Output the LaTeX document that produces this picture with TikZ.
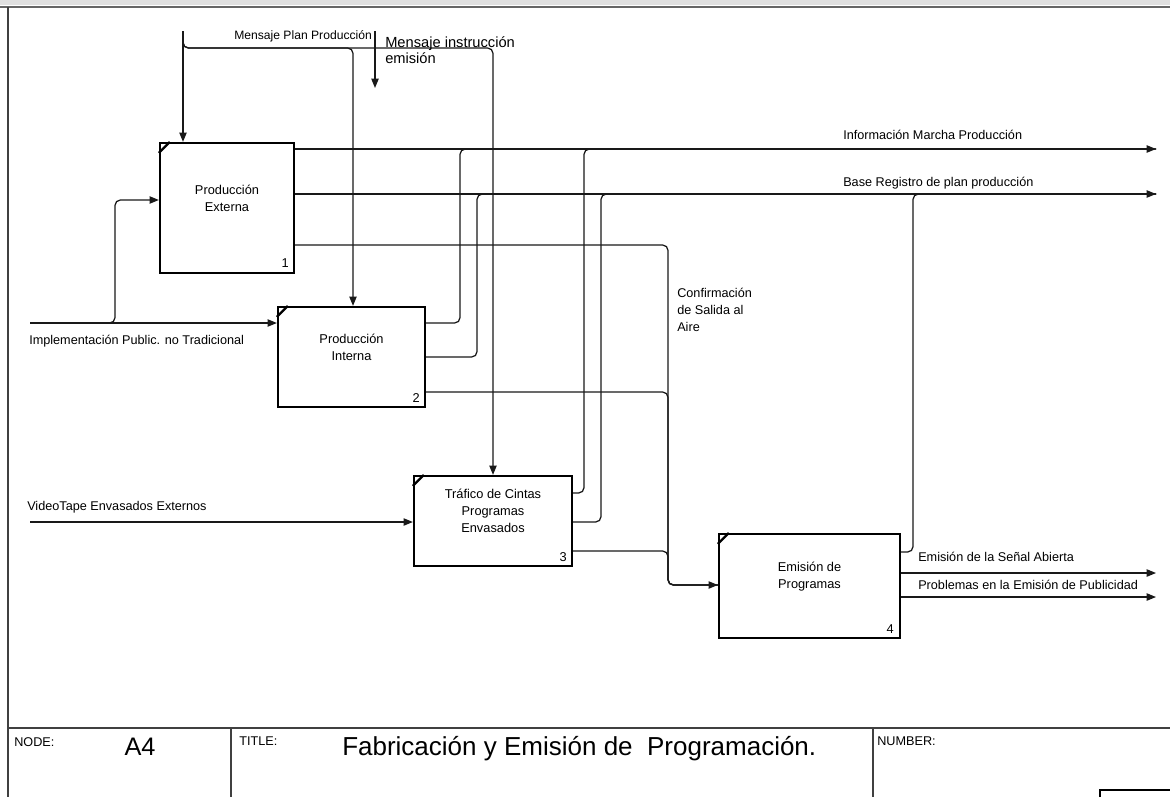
\documentclass[tikz,border=0pt]{standalone}
\usepackage{fontspec}
\setmainfont{Liberation Sans}
\usetikzlibrary{arrows.meta,calc,fit}

\begin{document}
\begin{tikzpicture}[x=0.75pt,y=-0.75pt,
  conn/.style={line width=0.95pt, draw=black!90, rounded corners=4pt},
  arr/.style={conn, -{Triangle[length=7pt,width=5.5pt]}},
  procbox/.style={draw, line width=1.7pt, inner sep=0pt, fill=white},
  corner/.style={line width=1.7pt},
  boxtxt/.style={align=center, inner sep=0pt, font=\fontsize{9.6}{12.75}\selectfont},
  boxnum/.style={inner sep=0pt, font=\fontsize{9.6}{11}\selectfont},
  lbl/.style={inner sep=0pt, font=\fontsize{9.5}{12.75}\selectfont},
  frame/.style={line width=1.2pt, draw=black!75},
  small/.style={inner sep=0pt, font=\fontsize{9.5}{11}\selectfont, anchor=north west}
]
\useasboundingbox (0,0) rectangle (1170,797);

% sheet border
\fill[black!12] (0,0) rectangle (1170,5);
\draw[line width=1.8pt, draw=black!60] (0,7) -- (1170,7);
\draw[frame] (8,7) -- (8,797);

% activity boxes
\node[procbox, fit={(160,143) (294,273)}] (b1) {};
\node[procbox, fit={(278,307) (425,407)}] (b2) {};
\node[procbox, fit={(414,476) (572,566)}] (b3) {};
\node[procbox, fit={(719,534) (900,638)}] (b4) {};

\foreach \b in {b1,b2,b3,b4}
  \draw[corner] ($(\b.north west)+(0,11)$) -- ($(\b.north west)+(11,0)$);

\node[boxtxt] (b1t) at ($(b1.center)+(0,-10)$) {Producción\\Externa};
\node[boxtxt] (b2t) at ($(b2.center)+(0,-10)$) {Producción\\Interna};
\node[boxtxt] (b3t) at ($(b3.center)+(0,-10)$) {Tráfico de Cintas\\Programas\\Envasados};
\node[boxtxt] (b4t) at ($(b4.center)+(0,-9)$) {Emisión de\\Programas};

\node[boxnum] (b1n) at ($(b1.south east)+(-10,-11)$) {1};
\node[boxnum] (b2n) at ($(b2.south east)+(-10,-10)$) {2};
\node[boxnum] (b3n) at ($(b3.south east)+(-10,-10)$) {3};
\node[boxnum] (b4n) at ($(b4.south east)+(-11,-10)$) {4};

% free ends of the boundary arrows
\coordinate (mpp) at (183,31);
\coordinate (mie) at (375,31);
\coordinate (mieE) at (375,88);
\coordinate (ipt) at (30,323);
\coordinate (vtp) at (30,522);
\coordinate (imp) at (1156,149);
\coordinate (brp) at (1156,194);
\coordinate (esa) at (1156,573);
\coordinate (pep) at (1156,597);
\coordinate (jx) at (668,585);

% controls
\draw[arr] (mpp) -- (b1.north -| mpp);
\draw[arr] (mpp) |- (353,48) -- (b2.north -| 353,48);
\draw[arr] (mpp) |- (493,48) -- (b3.north -| 493,48);
\draw[arr] (mie) -- (mieE);

% inputs
\draw[arr] (ipt) -- (b2.west |- ipt);
\draw[arr] (ipt) -| (115,200) -- (b1.west |- 115,200);
\draw[arr] (vtp) -- (b3.west |- vtp);

% outputs of box 1
\draw[arr] (b1.east |- 0,149) -- (imp);
\draw[arr] (b1.east |- 0,194) -- (brp);
\draw[conn] (b1.east |- 0,245) -| (jx) -- (b4.west |- jx);

% outputs of box 2
\draw[conn] (b2.east |- 0,323) -| (460,149) -- (imp);
\draw[conn] (b2.east |- 0,357) -| (477,194) -- (brp);
\draw[conn] (b2.east |- 0,392) -| (jx) -- (b4.west |- jx);

% outputs of box 3
\draw[conn] (b3.east |- 0,493) -| (584,149) -- (imp);
\draw[conn] (b3.east |- 0,522) -| (601,194) -- (brp);
\draw[arr] (b3.east |- 0,551) -| (jx) -- (b4.west |- jx);

% outputs of box 4
\draw[conn] (b4.east |- 0,552) -| (913,194) -- (brp);
\draw[arr] (b4.east |- 0,573) -- (esa);
\draw[arr] (b4.east |- 0,597) -- (pep);

% arrow labels (multi-line labels sit on the baseline of their last line)
\node[inner sep=0pt, anchor=base west, font=\fontsize{9.1}{11}\selectfont] (lmpp) at (234,39) {Mensaje Plan Producción};
\node[inner sep=0pt, anchor=base west, align=left, font=\fontsize{11}{12}\selectfont] (lmie) at (385,63) {Mensaje instrucción\\emisión};
\node[lbl, anchor=base west] (lipt) at (29,344) {Implementación Public. no Tradicional};
\node[lbl, anchor=base west] (lvtp) at (27,510) {VideoTape Envasados Externos};
\node[lbl, anchor=base west] (limp) at (843,139) {Información Marcha Producción};
\node[lbl, anchor=base west] (lbrp) at (843,186) {Base Registro de plan producción};
\node[lbl, anchor=base west, align=left] (lcsa) at (677,331) {Confirmación\\de Salida al\\Aire};
\node[lbl, anchor=base west] (lesa) at (918,561) {Emisión de la Señal Abierta};
\node[lbl, anchor=base west] (lpep) at (918,589) {Problemas en la Emisión de Publicidad};

% title block
\draw[frame] (8,728) -- (1170,728);
\draw[frame] (231,728) -- (231,797);
\draw[frame] (873,728) -- (873,797);
\draw[line width=0.8pt] (1100,797) -- (1100,790) -- (1170,790);
\node[small] (tnode) at (14,737) {NODE:};
\node[inner sep=0pt, anchor=base, font=\fontsize{19}{22}\selectfont] (tA4) at (140,755) {A4};
\node[small] (ttitle) at (239,737) {TITLE:};
\node[inner sep=0pt, anchor=base west, font=\fontsize{19.5}{22}\selectfont] (ttext) at (342,755) {Fabricación y Emisión de\ \ Programación.};
\node[small] (tnum) at (877,737) {NUMBER:};
\end{tikzpicture}
\end{document}
